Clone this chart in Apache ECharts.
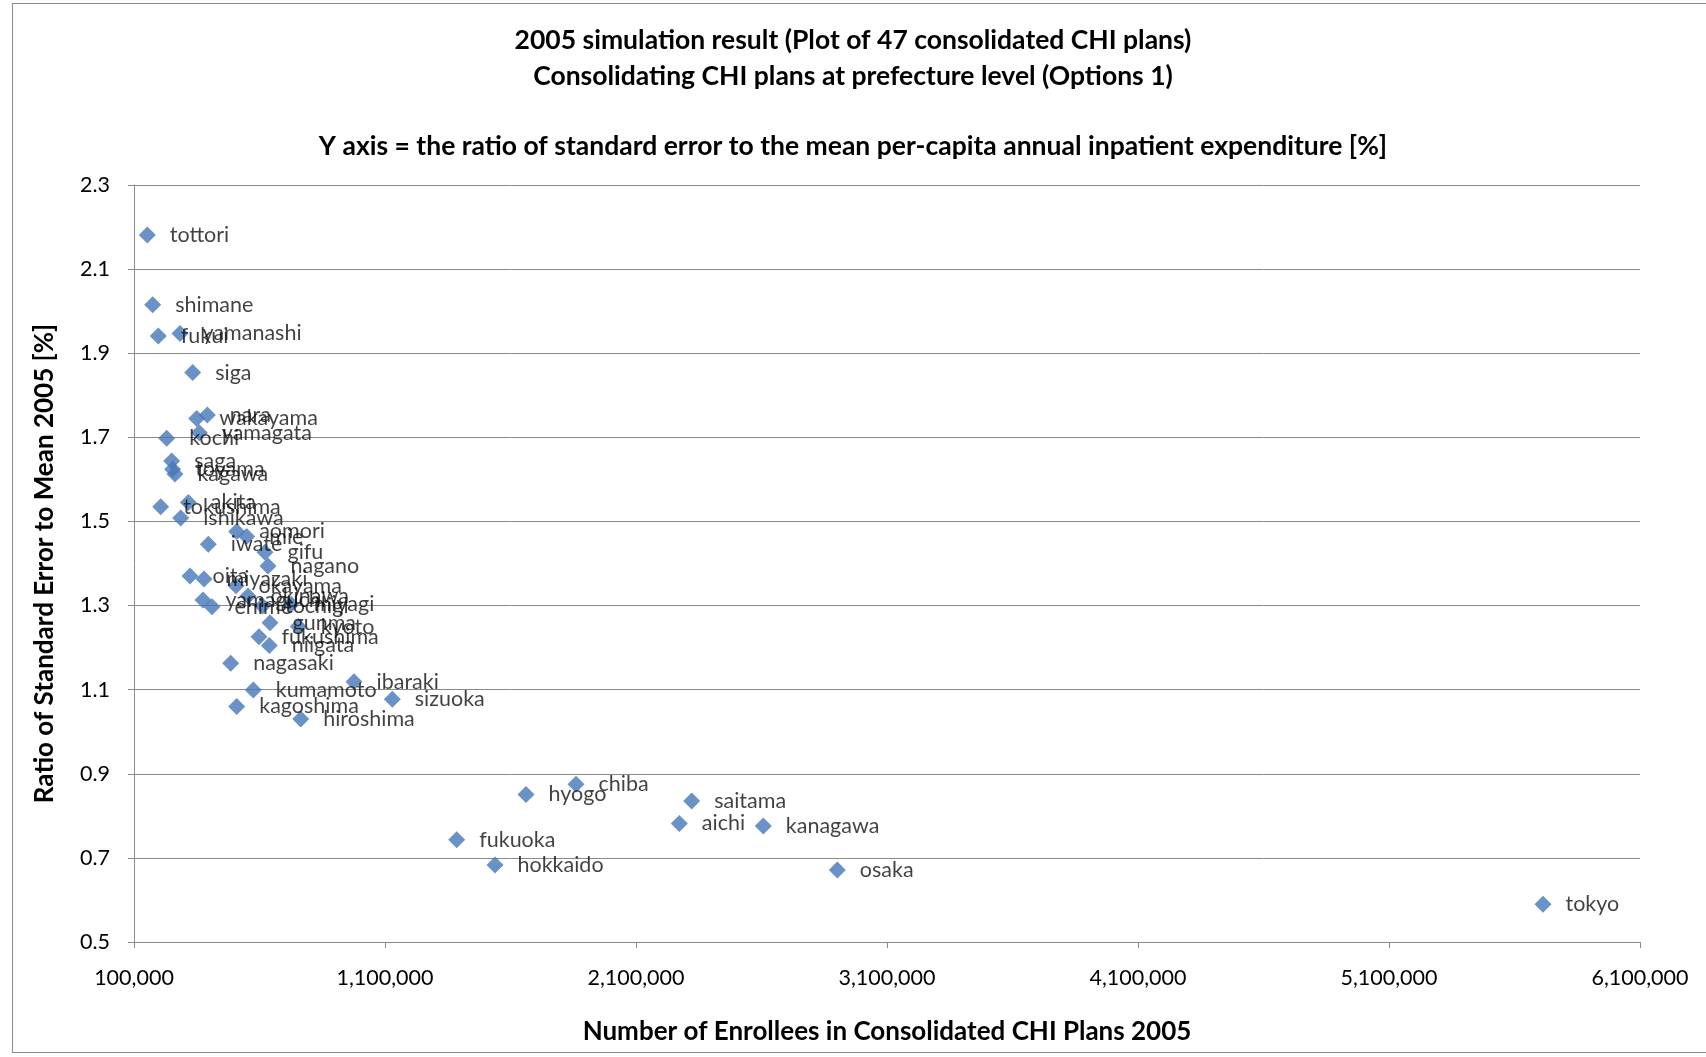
<!DOCTYPE html>
<html>
<head>
<meta charset="utf-8">
<script src="https://cdn.jsdelivr.net/npm/echarts@6/dist/echarts.min.js"></script>
<style>
  html, body { margin: 0; padding: 0; background: #fff; }
  #frame { position: absolute; left: 12px; top: 3px; width: 1710px; height: 1050px; border: 1px solid #8a8a8a; box-sizing: border-box; }
  #chart { position: absolute; left: 0; top: 0; width: 1706px; height: 1057px; }
</style>
</head>
<body>
<div id="frame"></div>
<div id="chart"></div>
<script>
// 47 consolidated CHI plans, 2005
var prefectures = [
  'tottori', 'shimane', 'fukui', 'yamanashi', 'siga', 'wakayama', 'nara', 'yamagata',
  'kochi', 'saga', 'toyama', 'kagawa', 'tokushima', 'akita', 'ishikawa', 'aomori',
  'mie', 'iwate', 'gifu', 'nagano', 'oita', 'miyazaki', 'okayama', 'okinawa',
  'yamaguchi', 'ehime', 'tochigi', 'miyagi', 'gunma', 'kyoto', 'fukushima', 'niigata',
  'nagasaki', 'ibaraki', 'kumamoto', 'sizuoka', 'kagoshima', 'hiroshima', 'hyogo', 'chiba',
  'saitama', 'aichi', 'kanagawa', 'fukuoka', 'hokkaido', 'osaka', 'tokyo'
];
var enrollees = [
  153000, 174500, 196800, 283300, 333800, 349800, 392000, 360200,
  230300, 250200, 254000, 263000, 206300, 316300, 286000, 509000,
  549000, 396000, 621900, 633900, 323100, 378900, 506400, 554200,
  374900, 410800, 612000, 726000, 641800, 754600, 598000, 639000,
  485200, 976500, 575300, 1129100, 509200, 764100, 1661700, 1861000,
  2321800, 2272600, 2607200, 1385600, 1538200, 2902000, 5713500
];
var seRatio = [
  2.181, 2.015, 1.941, 1.947, 1.854, 1.745, 1.753, 1.711,
  1.698, 1.644, 1.624, 1.613, 1.535, 1.545, 1.508, 1.476,
  1.464, 1.446, 1.427, 1.394, 1.370, 1.363, 1.347, 1.323,
  1.313, 1.297, 1.299, 1.303, 1.259, 1.250, 1.226, 1.205,
  1.163, 1.119, 1.099, 1.077, 1.060, 1.030, 0.851, 0.875,
  0.835, 0.782, 0.776, 0.743, 0.683, 0.671, 0.590
];

var fontFamily = 'Lato, "Open Sans", sans-serif';
var points = prefectures.map(function (name, i) {
  return { name: name, value: [enrollees[i], seRatio[i]] };
});

var chart = echarts.init(document.getElementById('chart'));
chart.setOption({
  backgroundColor: 'transparent',
  animation: false,
  textStyle: { fontFamily: fontFamily },
  title: [
    {
      text: '2005 simulation result (Plot of 47 consolidated CHI plans)\nConsolidating CHI plans at prefecture level (Options 1)',
      left: 'center', top: 17,
      textStyle: { fontSize: 26.5, fontWeight: 'bold', color: '#000', lineHeight: 36, fontFamily: fontFamily }
    },
    {
      text: 'Y axis = the ratio of standard error to the mean per-capita annual inpatient expenditure [%]',
      left: 'center', top: 128,
      textStyle: { fontSize: 26.5, fontWeight: 'bold', color: '#000', fontFamily: fontFamily }
    }
  ],
  grid: { left: 134, right: 66, top: 185, bottom: 115, containLabel: false },
  xAxis: {
    type: 'value',
    min: 100000, max: 6100000, interval: 1000000,
    name: 'Number of Enrollees in Consolidated CHI Plans 2005',
    nameLocation: 'middle', nameGap: 77,
    nameTextStyle: { fontSize: 26, fontWeight: 'bold', color: '#000' },
    axisLine: { show: true, lineStyle: { color: '#8a8a8a', width: 1 } },
    axisTick: { show: true, inside: false, length: 6, lineStyle: { color: '#8a8a8a' } },
    axisLabel: {
      fontSize: 21.5, color: '#000', margin: 25,
      formatter: function (v) { return v.toLocaleString('en-US'); }
    },
    splitLine: { show: false }
  },
  yAxis: {
    type: 'value',
    min: 0.5, max: 2.3, interval: 0.2,
    name: 'Ratio of Standard Error to Mean 2005 [%]',
    nameLocation: 'middle', nameGap: 76, nameRotate: 90,
    nameTextStyle: { fontSize: 26, fontWeight: 'bold', color: '#000' },
    axisLine: { show: true, lineStyle: { color: '#8a8a8a', width: 1 } },
    axisTick: { show: true, inside: false, length: 6, lineStyle: { color: '#8a8a8a' } },
    axisLabel: {
      fontSize: 21.5, color: '#000', margin: 24,
      formatter: function (v) { return v.toFixed(1); }
    },
    splitLine: { show: true, lineStyle: { color: '#8a8a8a', width: 1 } }
  },
  series: [{
    type: 'scatter',
    symbol: 'diamond',
    symbolSize: [17, 17],
    itemStyle: { color: '#4677b8' },
    data: points,
    label: {
      show: true, position: 'right', distance: 14,
      formatter: '{b}', fontSize: 21.5, color: '#111', fontFamily: fontFamily
    },
    labelLayout: { hideOverlap: false }
  }]
});
</script>
</body>
</html>
